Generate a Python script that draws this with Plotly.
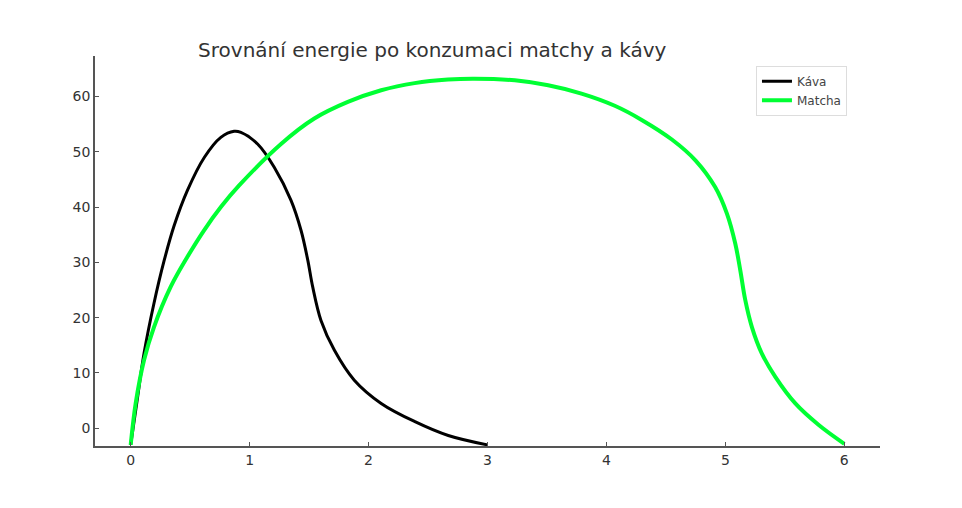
import plotly.graph_objects as go

kava_x = [0.0, 0.056, 0.112, 0.196, 0.28, 0.365, 0.477, 0.62, 0.758, 0.87, 0.927, 1.067, 1.207, 1.348, 1.432, 1.489, 1.53, 1.6, 1.713, 1.88, 2.106, 2.39, 2.67, 3.0]
kava_y = [-3.0, 5.3, 13.5, 22.6, 30.2, 36.6, 43.0, 49.0, 52.6, 53.7, 53.5, 51.4, 47.2, 41.2, 35.8, 30.4, 25.6, 19.5, 14.1, 8.7, 4.5, 1.2, -1.3, -3.0]

matcha_x = [0.0, 0.042, 0.112, 0.196, 0.337, 0.477, 0.617, 0.758, 0.912, 1.264, 1.544, 1.826, 2.106, 2.387, 2.668, 2.89, 3.23, 3.51, 3.79, 4.07, 4.3, 4.55, 4.75, 4.914, 5.013, 5.083, 5.125, 5.167, 5.223, 5.307, 5.42, 5.588, 5.785, 6.0]
matcha_y = [-3.0, 4.5, 12.3, 18.3, 25.6, 31.0, 35.8, 40.0, 43.9, 51.4, 56.0, 59.0, 61.1, 62.4, 63.05, 63.2, 62.9, 62.0, 60.5, 58.3, 55.7, 52.2, 48.4, 43.6, 38.8, 33.4, 28.6, 23.2, 18.3, 13.5, 9.3, 4.5, 0.6, -2.8]

x_ticks = [0, 1, 2, 3, 4, 5, 6]
y_ticks = [0, 10, 20, 30, 40, 50, 60]

title_text = "Srovnání energie po konzumaci matchy a kávy"

fig = go.Figure()
fig.add_trace(go.Scatter(x=kava_x, y=kava_y, mode="lines", name="Káva",
                         line=dict(color="black", width=3, shape="spline", smoothing=1.0)))
fig.add_trace(go.Scatter(x=matcha_x, y=matcha_y, mode="lines", name="Matcha",
                         line=dict(color="#00FF33", width=4, shape="spline", smoothing=1.0)))

font_family = "DejaVu Sans"
fig.update_layout(
    width=962, height=508,
    margin=dict(l=87, r=90, t=48, b=70),
    paper_bgcolor="white", plot_bgcolor="white",
    font=dict(family=font_family, color="#333333", size=14),
    title=dict(text=title_text, x=0.441, xanchor="center", y=0.918, yanchor="middle",
               font=dict(family=font_family, size=20, color="#333333")),
    showlegend=True,
    legend=dict(x=0.842, y=0.975, xanchor="left", yanchor="top",
                bgcolor="white", bordercolor="#dddddd", borderwidth=1,
                font=dict(family=font_family, size=12, color="#444444"),
                itemwidth=30, tracegroupgap=0),
)
fig.update_xaxes(range=[-0.3, 6.3], tickvals=x_ticks, showgrid=False, zeroline=False,
                 showline=True, linecolor="#555555", linewidth=1.5,
                 ticks="inside", ticklen=4, tickcolor="#555555",
                 tickfont=dict(size=14, color="#333333"))
fig.update_yaxes(range=[-3.2, 67.3], tickvals=y_ticks, showgrid=False, zeroline=False,
                 showline=True, linecolor="#555555", linewidth=1.5,
                 ticks="inside", ticklen=4, tickcolor="#555555",
                 tickfont=dict(size=14, color="#333333"))

fig.write_html("out.html")
